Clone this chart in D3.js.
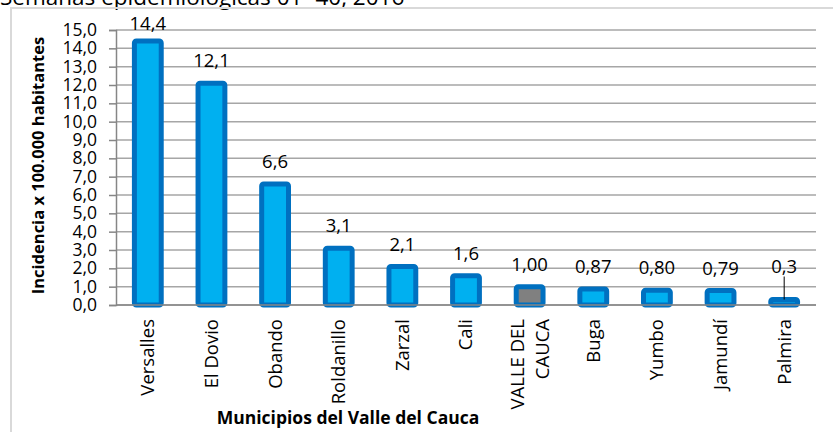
<!DOCTYPE html>
<html>
<head>
<meta charset="utf-8">
<script src="https://cdn.jsdelivr.net/npm/d3@7"></script>
<style>
body { margin: 0; background: #fff; }
svg { font-family: "Open Sans", "Noto Sans", sans-serif; }
</style>
</head>
<body>
<div id="chart"></div>
<script>
// Data
var municipios = ["Versalles", "El Dovio", "Obando", "Roldanillo", "Zarzal", "Cali",
                  "VALLE DEL CAUCA", "Buga", "Yumbo", "Jamundí", "Palmira"];
var incidencia = [14.4, 12.1, 6.6, 3.1, 2.1, 1.6, 1.00, 0.87, 0.80, 0.79, 0.3];
var etiquetas = ["14,4", "12,1", "6,6", "3,1", "2,1", "1,6", "1,00", "0,87", "0,80", "0,79", "0,3"];
var yTicks = d3.range(0, 16, 1);

var svgWidth = 833;
var svgHeight = 432;
var margin = { top: 30, right: 17, bottom: 127, left: 116 };
var chartWidth = svgWidth - margin.left - margin.right;
var chartHeight = svgHeight - margin.top - margin.bottom;

var svg = d3.select("#chart")
  .append("svg")
  .attr("width", svgWidth)
  .attr("height", svgHeight);

// title cut off at the top of the picture
svg.append("text")
  .attr("x", 0)
  .attr("y", 5)
  .attr("font-size", 22.5)
  .attr("fill", "#000")
  .text("Semanas epidemiológicas 01- 40, 2016");

// outer chart border (only top and left visible)
svg.append("rect")
  .attr("x", 11)
  .attr("y", 8)
  .attr("width", 900)
  .attr("height", 500)
  .attr("fill", "none")
  .attr("stroke", "#d9d9d9")
  .attr("stroke-width", 2);

var chart = svg.append("g")
  .attr("transform", `translate(${margin.left}, ${margin.top})`);

var x = d3.scaleBand()
  .domain(municipios)
  .range([0, chartWidth])
  .paddingInner(0.5)
  .paddingOuter(0.25);

var y = d3.scaleLinear()
  .domain([0, 15])
  .range([chartHeight, 0]);

// gridlines
chart.append("g")
  .selectAll("line")
  .data(yTicks)
  .enter()
  .append("line")
  .attr("x1", 0)
  .attr("x2", chartWidth)
  .attr("y1", d => y(d))
  .attr("y2", d => y(d))
  .attr("stroke", "#a6a6a6")
  .attr("stroke-width", 1.5);

// y axis
var leftAxis = d3.axisLeft(y)
  .tickValues(yTicks)
  .tickSize(7)
  .tickPadding(12)
  .tickFormat(d => d3.format(".1f")(d).replace(".", ","));

var yAxis = chart.append("g").call(leftAxis);
yAxis.select(".domain").attr("stroke", "#868686").attr("stroke-width", 1.5);
yAxis.selectAll(".tick line").attr("stroke", "#868686").attr("stroke-width", 1.5);
yAxis.selectAll("text")
  .attr("font-size", 17.5)
  .attr("fill", "#000")
  .attr("font-family", "Open Sans");

// bars
var bw = 5;
chart.selectAll(".bar")
  .data(incidencia)
  .enter()
  .append("rect")
  .attr("class", "bar")
  .attr("x", (d, i) => x(municipios[i]) + bw / 2)
  .attr("y", d => y(d))
  .attr("width", x.bandwidth() - bw)
  .attr("height", d => y(0) - y(d))
  .attr("rx", 2)
  .attr("fill", (d, i) => municipios[i] === "VALLE DEL CAUCA" ? "#808080" : "#00b0f0")
  .attr("stroke", "#0070c0")
  .attr("stroke-width", bw);

// x axis line
chart.append("line")
  .attr("x1", 0)
  .attr("x2", chartWidth)
  .attr("y1", chartHeight)
  .attr("y2", chartHeight)
  .attr("stroke", "#868686")
  .attr("stroke-width", 1.5);

// value labels
var labelY = function(d) {
  if (d < 0.5) return y(d) - 27;
  return Math.max(y(d) - 16, 0);
};
chart.selectAll(".val")
  .data(incidencia)
  .enter()
  .append("text")
  .attr("class", "val")
  .attr("x", (d, i) => x(municipios[i]) + x.bandwidth() / 2)
  .attr("y", labelY)
  .attr("text-anchor", "middle")
  .attr("font-size", 18.5)
  .attr("fill", "#000")
  .text((d, i) => etiquetas[i]);

// leader line for small labels
chart.selectAll(".leader")
  .data(incidencia.filter(d => d < 0.5))
  .enter()
  .append("line")
  .attr("class", "leader")
  .attr("x1", d => x(municipios[incidencia.indexOf(d)]) + x.bandwidth() / 2)
  .attr("x2", d => x(municipios[incidencia.indexOf(d)]) + x.bandwidth() / 2)
  .attr("y1", d => labelY(d) + 4)
  .attr("y2", d => y(d))
  .attr("stroke", "#000")
  .attr("stroke-width", 1);

// category labels (rotated)
var catG = chart.selectAll(".cat")
  .data(municipios)
  .enter()
  .append("text")
  .attr("class", "cat")
  .attr("transform", d => `translate(${x(d) + x.bandwidth() / 2}, ${chartHeight + 14}) rotate(-90)`)
  .attr("text-anchor", "end")
  .attr("font-size", 18.5)
  .attr("fill", "#000");

catG.each(function(d) {
  var lines = d === "VALLE DEL CAUCA" ? ["VALLE DEL", "CAUCA"] : [d];
  var t = d3.select(this);
  lines.forEach(function(l, k) {
    t.append("tspan")
      .attr("x", 0)
      .attr("y", (k - (lines.length - 1) / 2) * 25)
      .attr("dy", "0.35em")
      .text(l);
  });
});

// axis titles
chart.append("text")
  .attr("transform", `translate(${-margin.left + 44}, ${chartHeight / 2 - 2}) rotate(-90)`)
  .attr("text-anchor", "middle")
  .attr("font-size", 16.5)
  .attr("font-weight", "bold")
  .attr("fill", "#000")
  .text("Incidencia  x 100.000 habitantes");

chart.append("text")
  .attr("x", 232)
  .attr("y", chartHeight + 119)
  .attr("text-anchor", "middle")
  .attr("font-size", 17.5)
  .attr("font-weight", "bold")
  .attr("fill", "#000")
  .text("Municipios del Valle del Cauca");
</script>
</body>
</html>
